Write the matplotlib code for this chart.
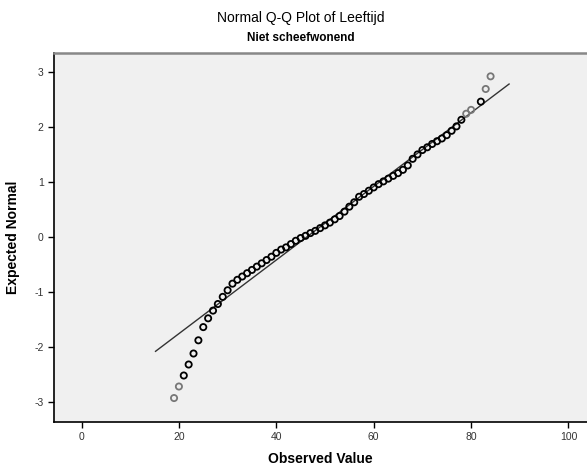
import matplotlib
matplotlib.use("Agg")
import matplotlib.pyplot as plt

plt.rcParams['font.family'] = ['Liberation Sans', 'DejaVu Sans']
plt.rcParams['axes.unicode_minus'] = False

# observed ages and their expected normal values
ages = [19, 20, 21, 22, 23, 24, 25, 26, 27, 28, 29, 30, 31, 32, 33, 34, 35, 36,
        37, 38, 39, 40, 41, 42, 43, 44, 45, 46, 47, 48, 49, 50, 51, 52, 53, 54,
        55, 56, 57, 58, 59, 60, 61, 62, 63, 64, 65, 66, 67, 68, 69, 70, 71, 72,
        73, 74, 75, 76, 77, 78, 79, 80, 82, 83, 84]
expected = [-2.92, -2.71, -2.51, -2.31, -2.11, -1.87, -1.63, -1.47, -1.33, -1.21,
            -1.08, -0.96, -0.84, -0.77, -0.71, -0.65, -0.59, -0.53, -0.47, -0.41,
            -0.35, -0.28, -0.22, -0.18, -0.12, -0.06, -0.01, 0.03, 0.08, 0.12,
            0.17, 0.22, 0.27, 0.33, 0.39, 0.47, 0.56, 0.64, 0.74, 0.79, 0.85,
            0.91, 0.97, 1.02, 1.07, 1.12, 1.17, 1.23, 1.31, 1.43, 1.51, 1.59,
            1.64, 1.70, 1.75, 1.80, 1.86, 1.94, 2.02, 2.14, 2.25, 2.32, 2.47,
            2.70, 2.93]
# single cases drawn lighter
single_cases = [19, 20, 79, 80, 83, 84]

# reference line end points
line_x = [15.2, 87.8]
line_y = [-2.07, 2.79]

x_ticks = [0, 20, 40, 60, 80, 100]
y_ticks = [-3, -2, -1, 0, 1, 2, 3]

fig = plt.figure(figsize=(5.87, 4.67), dpi=100, facecolor='white')
ax = fig.add_axes([0.092, 0.097, 0.908, 0.789])
ax.set_facecolor('#f0f0f0')

ax.plot(line_x, line_y, color='#333333', lw=1.0, zorder=2)

edge = ['#777777' if a in single_cases else 'black' for a in ages]
ax.scatter(ages, expected, s=20, facecolors='none', edgecolors=edge,
           linewidths=1.3, zorder=3)

ax.set_xlim(-5.65, 103.8)
ax.set_ylim(-3.35, 3.35)
ax.set_xticks(x_ticks)
ax.set_yticks(y_ticks)
ax.tick_params(axis='both', direction='out', length=4, width=1,
               labelsize=7.5, labelcolor='#333333', color='black')

for s in ['left', 'bottom']:
    ax.spines[s].set_color('black')
    ax.spines[s].set_linewidth(1.2)
ax.spines['top'].set_color('#888888')
ax.spines['top'].set_linewidth(1.8)
ax.spines['right'].set_visible(False)

ax.set_xlabel('Observed Value', fontsize=10, fontweight='bold', labelpad=7)
ax.set_ylabel('Expected Normal', fontsize=10, fontweight='bold', labelpad=10)

fig.text(0.512, 0.961, 'Normal Q-Q Plot of Leeftijd', ha='center', va='center',
         fontsize=10)
fig.text(0.512, 0.918, 'Niet scheefwonend', ha='center', va='center',
         fontsize=8.5, fontweight='bold')

fig.savefig('out.png', dpi=100, facecolor='white')
plt.close(fig)
